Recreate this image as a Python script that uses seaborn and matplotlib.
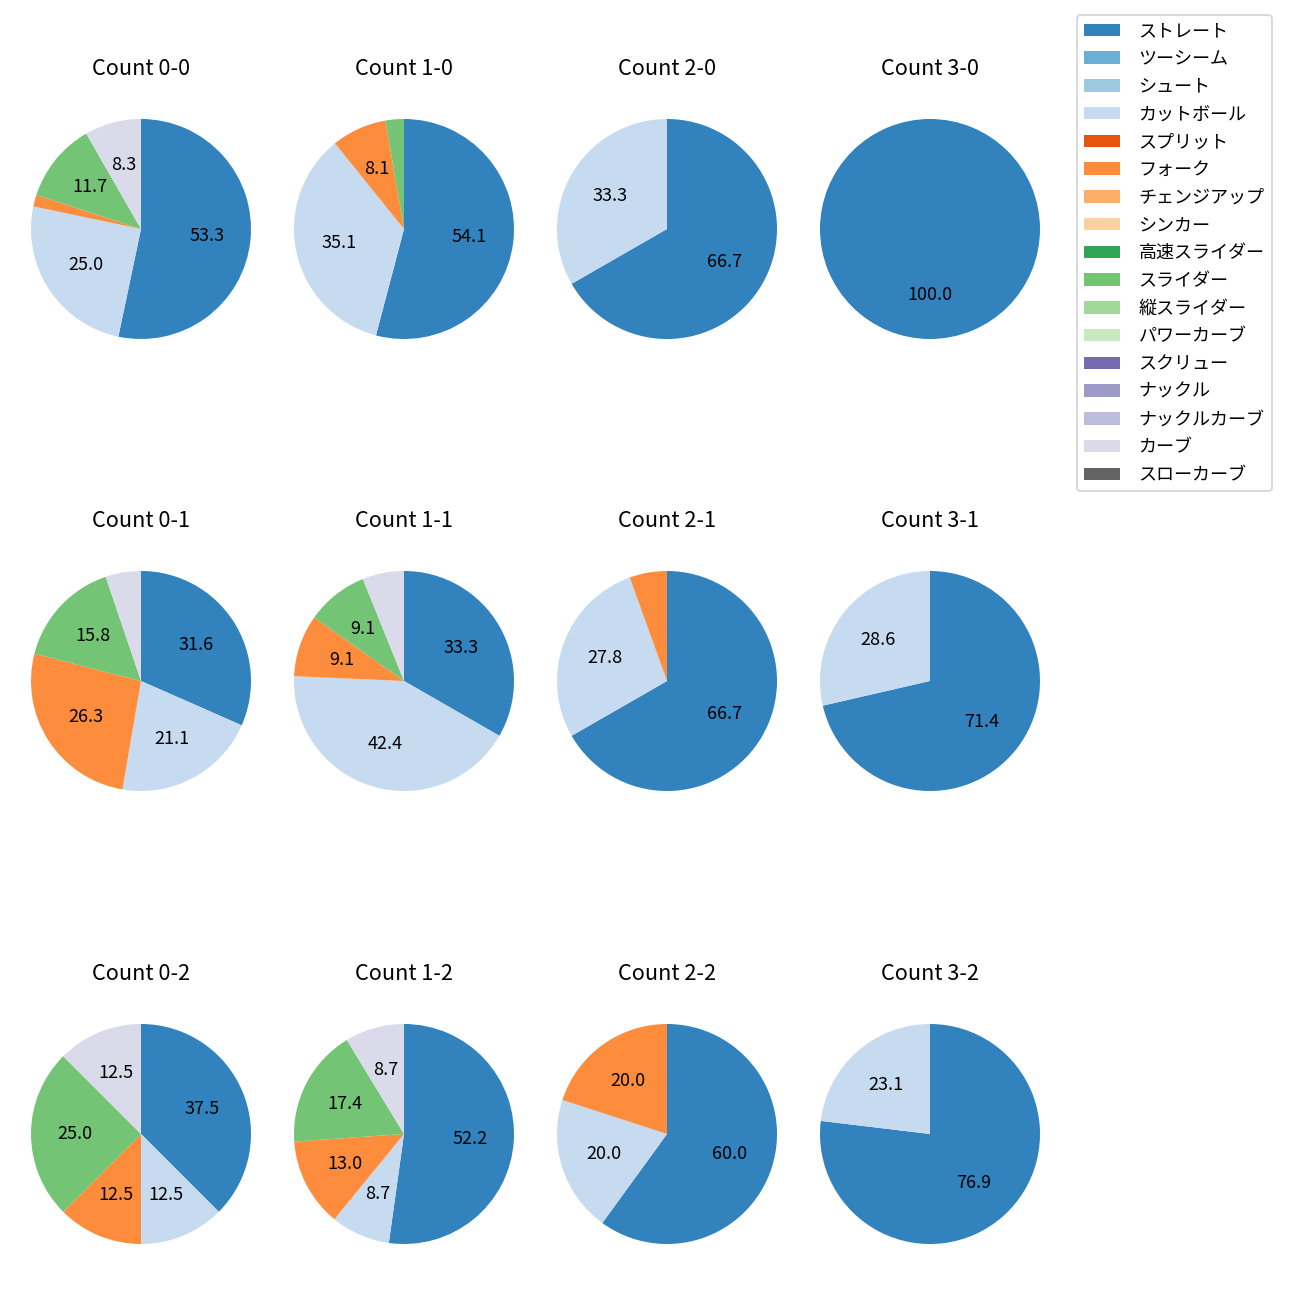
import seaborn as sns
import matplotlib.pyplot as plt
from matplotlib.patches import Patch

pitch_types = [
    "ストレート", "ツーシーム", "シュート", "カットボール", "スプリット",
    "フォーク", "チェンジアップ", "シンカー", "高速スライダー", "スライダー",
    "縦スライダー", "パワーカーブ", "スクリュー", "ナックル", "ナックルカーブ",
    "カーブ", "スローカーブ",
]

# percentage of each pitch type per count (balls-strikes)
counts = ["0-0", "1-0", "2-0", "3-0",
          "0-1", "1-1", "2-1", "3-1",
          "0-2", "1-2", "2-2", "3-2"]
shares = {
    "0-0": {"ストレート": 53.3, "カットボール": 25.0, "フォーク": 1.7, "スライダー": 11.7, "カーブ": 8.3},
    "1-0": {"ストレート": 54.1, "カットボール": 35.1, "フォーク": 8.1, "スライダー": 2.7},
    "2-0": {"ストレート": 66.7, "カットボール": 33.3},
    "3-0": {"ストレート": 100.0},
    "0-1": {"ストレート": 31.6, "カットボール": 21.1, "フォーク": 26.3, "スライダー": 15.8, "カーブ": 5.2},
    "1-1": {"ストレート": 33.3, "カットボール": 42.4, "フォーク": 9.1, "スライダー": 9.1, "カーブ": 6.1},
    "2-1": {"ストレート": 66.7, "カットボール": 27.8, "フォーク": 5.5},
    "3-1": {"ストレート": 71.4, "カットボール": 28.6},
    "0-2": {"ストレート": 37.5, "カットボール": 12.5, "フォーク": 12.5, "スライダー": 25.0, "カーブ": 12.5},
    "1-2": {"ストレート": 52.2, "カットボール": 8.7, "フォーク": 13.0, "スライダー": 17.4, "カーブ": 8.7},
    "2-2": {"ストレート": 60.0, "カットボール": 20.0, "フォーク": 20.0},
    "3-2": {"ストレート": 76.9, "カットボール": 23.1},
}

plt.rcParams["font.family"] = ["Noto Sans CJK JP", "DejaVu Sans"]

palette = sns.color_palette("tab20c", 20)
color_map = {p: palette[i] for i, p in enumerate(pitch_types)}

fig = plt.figure(figsize=(10, 10), dpi=130)
W = H = 1300
side = 275
col_x = [141, 404, 667, 930]
row_y = [229, 681, 1134]

for i, c in enumerate(counts):
    r, k = divmod(i, 4)
    cx, cy = col_x[k], row_y[r]
    ax = fig.add_axes([(cx - side / 2) / W, 1 - (cy + side / 2) / H, side / W, side / H])
    data = shares[c]
    labels = list(data.keys())
    vals = list(data.values())
    ax.pie(
        vals,
        colors=[color_map[p] for p in labels],
        startangle=90,
        counterclock=False,
        autopct=lambda p: f"{p:.1f}" if p >= 7 else "",
    )
    ax.set_title(f"Count {c}", pad=9)

handles = [Patch(facecolor=color_map[p], label=p) for p in pitch_types]
fig.legend(
    handles=handles,
    loc="upper left",
    bbox_to_anchor=(1077 / W, 1 - 15 / H),
    borderaxespad=0,
    labelspacing=0.54,
    handletextpad=1.0,
)

fig.savefig("out.png", dpi=130)
